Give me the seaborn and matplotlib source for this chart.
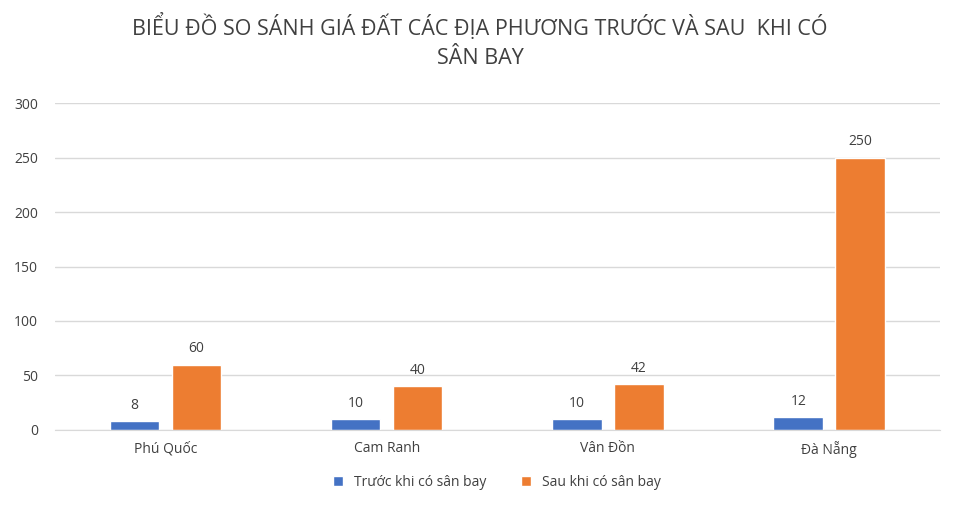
import pandas as pd
import matplotlib.pyplot as plt
import seaborn as sns

sns.set_style('white')
plt.rcParams['font.family'] = ['Open Sans', 'DejaVu Sans']

# Data
places = ['Phú Quốc', 'Cam Ranh', 'Vân Đồn', 'Đà Nẵng']
before = [8, 10, 10, 12]
after = [60, 40, 42, 250]
series = ['Trước khi có sân bay', 'Sau khi có sân bay']

df = pd.DataFrame({
    'place': places * 2,
    'value': before + after,
    'series': [series[0]] * 4 + [series[1]] * 4,
})

fig = plt.figure(figsize=(9.6, 5.18), dpi=100)
ax = fig.add_axes([0.057, 0.17, 0.922, 0.631])
sns.barplot(data=df, x='place', y='value', hue='series', order=places,
            hue_order=series, palette=['#4472C4', '#ED7D31'], saturation=1,
            width=0.56, gap=0.2, ax=ax, legend=True)

for c in ax.containers:
    ax.bar_label(c, padding=6, fontsize=10, color='#404040')

ax.set_ylim(0, 300)
ax.set_yticks(range(0, 301, 50))
ax.set_xlim(-0.5, 3.5)
ax.set_xlabel('')
ax.set_ylabel('')
ax.yaxis.grid(True, color='#d9d9d9', linewidth=1)
ax.set_axisbelow(True)
for s in ['top', 'right', 'left']:
    ax.spines[s].set_visible(False)
ax.spines['bottom'].set_color('#d9d9d9')
ax.tick_params(axis='both', length=0, labelsize=10, colors='#404040')
ax.tick_params(axis='y', pad=12)
ax.tick_params(axis='x', pad=8)

fig.suptitle('BIỂU ĐỒ SO SÁNH GIÁ ĐẤT CÁC ĐỊA PHƯƠNG TRƯỚC VÀ SAU  KHI CÓ\nSÂN BAY',
             y=0.975, fontsize=15.5, color='#404040', linespacing=1.5)

ax.legend(loc='upper center', bbox_to_anchor=(0.5, -0.1), ncol=2, frameon=False,
          fontsize=10, handlelength=0.7, handleheight=0.7, columnspacing=2.5,
          labelcolor='#404040')

fig.savefig('out.png', dpi=100)
